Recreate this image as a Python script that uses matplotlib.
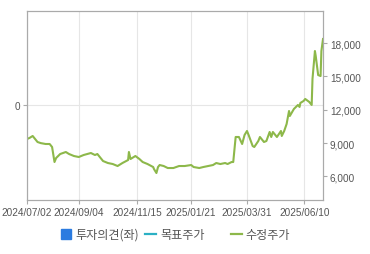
import matplotlib
matplotlib.use('Agg')
import matplotlib.pyplot as plt
from matplotlib.lines import Line2D
import pandas as pd

green = '#8DB84A'
blue = '#2B7BE0'
teal = '#2BB0C4'
grey = '#555555'

# adjusted price (수정주가)
dates = ['2024-07-02', '2024-07-05', '2024-07-09', '2024-07-15', '2024-07-19',
         '2024-07-25', '2024-07-30', '2024-08-02', '2024-08-05', '2024-08-07',
         '2024-08-12', '2024-08-19', '2024-08-23', '2024-08-29', '2024-09-04',
         '2024-09-10', '2024-09-19', '2024-09-24', '2024-09-27', '2024-10-04',
         '2024-10-10', '2024-10-16', '2024-10-22', '2024-10-28', '2024-11-04',
         '2024-11-05', '2024-11-07', '2024-11-13', '2024-11-18', '2024-11-22',
         '2024-11-28', '2024-12-05', '2024-12-06', '2024-12-09', '2024-12-11',
         '2024-12-13', '2024-12-18', '2024-12-23', '2024-12-30', '2025-01-06',
         '2025-01-13', '2025-01-21', '2025-01-24', '2025-01-31', '2025-02-05',
         '2025-02-11', '2025-02-17', '2025-02-21', '2025-02-26', '2025-03-04',
         '2025-03-07', '2025-03-12', '2025-03-14', '2025-03-17', '2025-03-21',
         '2025-03-25', '2025-03-28', '2025-03-31', '2025-04-02', '2025-04-07',
         '2025-04-09', '2025-04-14', '2025-04-16', '2025-04-21', '2025-04-24',
         '2025-04-28', '2025-04-30', '2025-05-02', '2025-05-07', '2025-05-12',
         '2025-05-13', '2025-05-16', '2025-05-19', '2025-05-22', '2025-05-23',
         '2025-05-28', '2025-06-02', '2025-06-04', '2025-06-05', '2025-06-09',
         '2025-06-11', '2025-06-16', '2025-06-19', '2025-06-20', '2025-06-23',
         '2025-06-24', '2025-06-27', '2025-06-30', '2025-07-01', '2025-07-03']
prices = [9370, 9460, 9640, 9100, 9000,
          8920, 8920, 8650, 7300, 7660,
          8020, 8200, 8020, 7840, 7750,
          7930, 8110, 7930, 8020, 7390,
          7210, 7120, 6940, 7210, 7480,
          8200, 7570, 7840, 7570, 7300,
          7120, 6850, 6670, 6310, 6850,
          7030, 6940, 6760, 6760, 6940,
          6940, 7030, 6850, 6760, 6850,
          6940, 7030, 7210, 7120, 7210,
          7120, 7300, 7300, 9550, 9550,
          8920, 9730, 10090, 9730, 8740,
          8650, 9190, 9550, 9100, 9190,
          10000, 9550, 10000, 9550, 10090,
          9640, 10090, 10720, 11890, 11440,
          12070, 12430, 12250, 12610, 12790,
          12970, 12700, 12430, 14770, 17280,
          16830, 15120, 15030, 17280, 18360]

tick_dates = ['2024-07-02', '2024-09-04', '2024-11-15', '2025-01-21', '2025-03-31', '2025-06-10']
tick_labels = ['2024/07/02', '2024/09/04', '2024/11/15', '2025/01/21', '2025/03/31', '2025/06/10']
price_ticks = [6000, 9000, 12000, 15000, 18000]

x = pd.to_datetime(dates)
xt = pd.to_datetime(tick_dates)

fig = plt.figure(figsize=(3.7, 2.55), dpi=100)
ax = fig.add_axes([0.073, 0.212, 0.80, 0.741])
ax2 = ax.twinx()

# left axis: opinion scale, only the zero line
ax.set_ylim(-1, 1)
ax.set_yticks([0])
ax.set_yticklabels(['0'])
ax.axhline(0, color='#e6e6e6', lw=0.8, zorder=0)
for d in xt:
    ax.axvline(d, color='#e6e6e6', lw=0.8, zorder=0)

ax2.plot(x, prices, color=green, lw=1.5)
ax2.set_ylim(3890, 20880)
ax2.set_yticks(price_ticks)
ax2.set_yticklabels(['{:,}'.format(v) for v in price_ticks])

ax.set_xlim(pd.Timestamp('2024-07-02'), pd.Timestamp('2025-07-03'))
ax.set_xticks(xt)
ax.set_xticklabels(tick_labels)

for a in (ax, ax2):
    for s in a.spines.values():
        s.set_color('#aaaaaa')
        s.set_linewidth(0.8)
    a.tick_params(colors='#aaaaaa', labelcolor=grey, length=3, width=0.8,
                  labelsize=7.2, pad=2)
    for lab in a.get_xticklabels() + a.get_yticklabels():
        lab.set_family('Liberation Sans')

# legend, one entry at a time like the original
items = [(Line2D([], [], ls='none', marker='s', ms=7, color=blue), '투자의견(좌)', 0.165),
         (Line2D([], [], color=teal, lw=1.6), '목표주가', 0.393),
         (Line2D([], [], color=green, lw=1.6), '수정주가', 0.624)]
for h, lab, xpos in items:
    fig.legend([h], [lab], loc='center left', bbox_to_anchor=(xpos, 0.077),
               frameon=False, borderpad=0, borderaxespad=0,
               prop={'family': 'Noto Sans CJK KR', 'size': 8.7},
               handlelength=0.9, handletextpad=0.3, labelcolor=grey)

fig.savefig('out.png', dpi=100)
